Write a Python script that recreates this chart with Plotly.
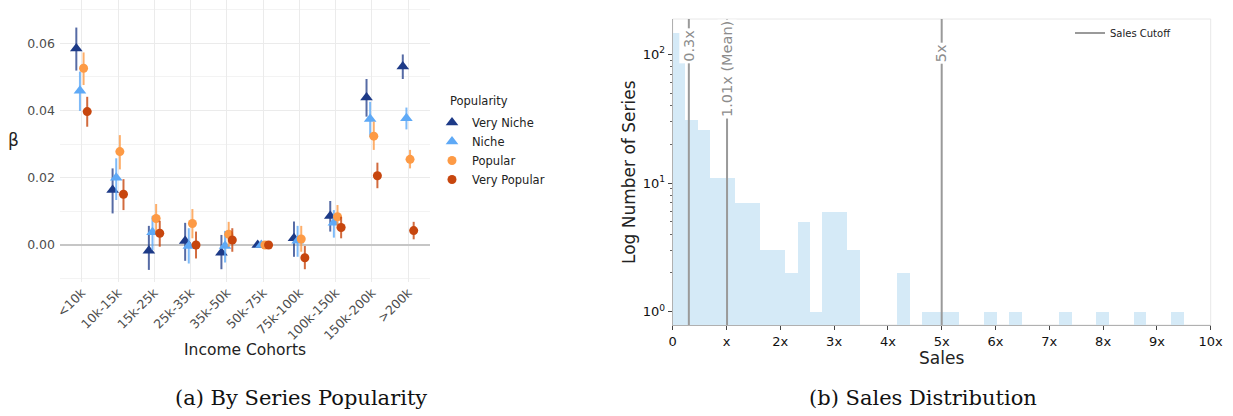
import plotly.graph_objects as go

# ---------------- data: left panel (coefficients by income cohort) ----------------
cohorts = ["<10k", "10k-15k", "15k-25k", "25k-35k", "35k-50k", "50k-75k",
           "75k-100k", "100k-150k", "150k-200k", ">200k"]

very_niche    = [0.0585, 0.0164, -0.0017, 0.0012, -0.0023, 0.0, 0.0020, 0.0086, 0.0439, 0.0531]
very_niche_hi = [0.0647, 0.0228, 0.0057, 0.0066, 0.0030, 0.0, 0.0070, 0.0131, 0.0494, 0.0567]
very_niche_lo = [0.0519, 0.0094, -0.0074, -0.0047, -0.0072, 0.0, -0.0035, 0.0040, 0.0382, 0.0494]

niche    = [0.0459, 0.0200, 0.0038, -0.0003, -0.0003, 0.0, 0.0013, 0.0066, 0.0375, 0.0377]
niche_hi = [0.0516, 0.0258, 0.0086, 0.0050, 0.0042, 0.0, 0.0057, 0.0104, 0.0426, 0.0409]
niche_lo = [0.0399, 0.0134, -0.0015, -0.0055, -0.0052, 0.0, -0.0035, 0.0022, 0.0322, 0.0344]

popular    = [0.0526, 0.0278, 0.0079, 0.0064, 0.0032, 0.0, 0.0018, 0.0084, 0.0324, 0.0255]
popular_hi = [0.0573, 0.0327, 0.0122, 0.0107, 0.0069, 0.0, 0.0057, 0.0119, 0.0367, 0.0283]
popular_lo = [0.0476, 0.0225, 0.0035, 0.0020, -0.0005, 0.0, -0.0020, 0.0047, 0.0283, 0.0228]

very_popular    = [0.0397, 0.0151, 0.0035, 0.0000, 0.0015, 0.0, -0.0038, 0.0052, 0.0206, 0.0043]
very_popular_hi = [0.0441, 0.0196, 0.0072, 0.0040, 0.0050, 0.0, -0.0003, 0.0084, 0.0245, 0.0069]
very_popular_lo = [0.0352, 0.0104, -0.0005, -0.0040, -0.0020, 0.0, -0.0072, 0.0020, 0.0169, 0.0017]

y_ticks = [0.0, 0.02, 0.04, 0.06]

# ---------------- data: right panel (sales histogram) ----------------
bin_start = 0.0
bin_width = 0.2315
bin_counts = [146, 31, 26, 11, 11, 7, 7, 3, 3, 2,
              5, 1, 6, 6, 3, 0, 0, 0, 2, 0,
              1, 1, 1, 0, 0, 1, 0, 1, 0, 0,
              0, 1, 0, 0, 1, 0, 0, 1, 0, 0,
              1]
cutoffs = [0.3, 1.01, 5.0]
cutoff_labels = ["0.3x", "1.01x (Mean)", "5x"]
sales_tickvals = list(range(11))
sales_ticktext = ["0", "x", "2x", "3x", "4x", "5x", "6x", "7x", "8x", "9x", "10x"]
log_tickvals = [1, 10, 100]
log_ticktext = ["10<sup>0</sup>", "10<sup>1</sup>", "10<sup>2</sup>"]
log_minor = [2, 3, 4, 5, 6, 7, 8, 9, 20, 30, 40, 50, 60, 70, 80, 90, 200]

# ---------------- figure ----------------
W, H = 1233, 416
def fx(p):
    return p / W
def fy(p):
    return 1 - p / H

fig = go.Figure()

series = [
    ("Very Niche", very_niche, very_niche_hi, very_niche_lo, "#1d3a87", "rgba(29,58,135,0.75)", "triangle-up", 11),
    ("Niche", niche, niche_hi, niche_lo, "#5ea9f6", "rgba(94,169,246,0.8)", "triangle-up", 11),
    ("Popular", popular, popular_hi, popular_lo, "#fd9a45", "rgba(253,154,69,0.8)", "circle", 9),
    ("Very Popular", very_popular, very_popular_hi, very_popular_lo, "#c7460e", "rgba(199,70,14,0.8)", "circle", 9),
]
for name, v, hi, lo, col, ecol, sym, sz in series:
    fig.add_trace(go.Scatter(
        x=cohorts, y=v, name=name, mode="markers", offsetgroup=name,
        marker=dict(symbol=sym, size=sz, color=col, line=dict(width=0)),
        error_y=dict(type="data", symmetric=False,
                     array=[h - a for h, a in zip(hi, v)],
                     arrayminus=[a - l for a, l in zip(v, lo)],
                     color=ecol, thickness=2, width=0),
        xaxis="x", yaxis="y", legend="legend",
    ))

# histogram bars (non-empty bins)
bx = [bin_start + (k + 0.5) * bin_width for k, c in enumerate(bin_counts) if c > 0]
by = [c for c in bin_counts if c > 0]
fig.add_trace(go.Bar(
    x=bx, y=by, width=bin_width, marker=dict(color="#d5eaf7", line=dict(width=0)),
    xaxis="x2", yaxis="y2", showlegend=False,
))

# legend entry for cutoff lines
fig.add_trace(go.Scatter(
    x=[None], y=[None], mode="lines", name="Sales Cutoff",
    line=dict(color="#9a9a9a", width=2), xaxis="x2", yaxis="y2", legend="legend2",
))

for c in cutoffs:
    fig.add_shape(type="line", xref="x2", yref="y2 domain", x0=c, x1=c, y0=0, y1=1,
                  line=dict(color="#9a9a9a", width=2), layer="above")

label_centers = [46, 69, 53.5]
for c, lab, yc in zip(cutoffs, cutoff_labels, label_centers):
    fig.add_annotation(x=c, xref="x2", y=fy(yc), yref="paper", text=lab, textangle=-90,
                       showarrow=False, bgcolor="white", borderpad=1,
                       font=dict(size=14.5, color="#8c8c8c"), xanchor="center", yanchor="middle")

# light frame for right panel
fig.add_shape(type="rect", xref="x2 domain", yref="y2 domain", x0=0, x1=1, y0=0, y1=1,
              line=dict(color="#e8e8e8", width=1), layer="below")

fig.update_layout(
    width=W, height=H,
    margin=dict(l=0, r=0, t=0, b=0),
    paper_bgcolor="white", plot_bgcolor="white",
    font=dict(family="DejaVu Sans", color="#222"),
    scattermode="group", scattergap=0.6,
    bargap=0,
    xaxis=dict(domain=[fx(60), fx(430)], type="category", range=[-0.6, 9.6],
               showgrid=True, gridcolor="#ebebeb", gridwidth=1, zeroline=False,
               showline=False, ticks="", tickangle=-45,
               tickfont=dict(size=12.5, color="#4d4d4d"), anchor="y", automargin=False),
    yaxis=dict(domain=[fy(282), 1], range=[-0.011, 0.0729],
               tickvals=y_ticks, tickformat=".2f", ticklabelstandoff=4,
               showgrid=True, gridcolor="#ebebeb", gridwidth=1,
               minor=dict(showgrid=True, dtick=0.01, gridcolor="#f3f3f3", gridwidth=1),
               zeroline=True, zerolinecolor="#c6c6c6", zerolinewidth=1.5,
               showline=False, ticks="", tickfont=dict(size=12.5, color="#4d4d4d"),
               anchor="x", automargin=False),
    xaxis2=dict(domain=[fx(672.7), fx(1210.7)], range=[0, 10],
                tickvals=sales_tickvals, ticktext=sales_ticktext,
                ticks="outside", ticklen=4, tickcolor="#444",
                showline=True, linecolor="#b0b0b0", linewidth=1,
                showgrid=False, zeroline=False,
                tickfont=dict(size=13, color="#111"), anchor="y2", automargin=False),
    yaxis2=dict(domain=[fy(325), fy(19)], type="log", range=[-0.103, 2.274],
                tickvals=log_tickvals, ticktext=log_ticktext,
                ticks="outside", ticklen=4, tickcolor="#444",
                minor=dict(tickvals=log_minor, ticks="outside", ticklen=2, tickcolor="#666"),
                showline=True, linecolor="#b0b0b0", linewidth=1,
                showgrid=False, zeroline=False,
                tickfont=dict(size=13, color="#111"), anchor="x2", automargin=False),
    legend=dict(x=fx(432), y=fy(108), xanchor="left", yanchor="top",
                font=dict(size=11.5, color="#222"), bgcolor="rgba(0,0,0,0)",
                borderwidth=0, tracegroupgap=0),
    legend2=dict(x=fx(1070), y=fy(33), xanchor="left", yanchor="middle",
                 font=dict(size=10, color="#222"), bgcolor="rgba(0,0,0,0)", borderwidth=0),
)

# axis titles and captions
fig.add_annotation(x=fx(448), y=fy(101), xref="paper", yref="paper", text="Popularity",
                   showarrow=False, xanchor="left", yanchor="middle",
                   font=dict(size=11.5, color="#222"))
fig.add_annotation(x=fx(13), y=fy(140), xref="paper", yref="paper", text="β",
                   showarrow=False, xanchor="center", yanchor="middle",
                   font=dict(size=17, color="#222"))
fig.add_annotation(x=fx(245), y=fy(350), xref="paper", yref="paper", text="Income Cohorts",
                   showarrow=False, xanchor="center", yanchor="middle",
                   font=dict(size=15.5, color="#222"))
fig.add_annotation(x=fx(629), y=fy(172), xref="paper", yref="paper", text="Log Number of Series",
                   showarrow=False, textangle=-90, xanchor="center", yanchor="middle",
                   font=dict(size=17, color="#222"))
fig.add_annotation(x=fx(941), y=fy(358), xref="paper", yref="paper", text="Sales",
                   showarrow=False, xanchor="center", yanchor="middle",
                   font=dict(size=17, color="#222"))
fig.add_annotation(x=fx(301), y=fy(398), xref="paper", yref="paper", text="(a) By Series Popularity",
                   showarrow=False, xanchor="center", yanchor="middle",
                   font=dict(size=21, family="DejaVu Serif", color="#111"))
fig.add_annotation(x=fx(923), y=fy(398), xref="paper", yref="paper", text="(b) Sales Distribution",
                   showarrow=False, xanchor="center", yanchor="middle",
                   font=dict(size=21, family="DejaVu Serif", color="#111"))

fig.write_html("out.html", config={"displayModeBar": False},
               post_script="document.body.style.margin='0';document.body.style.padding='0';")
